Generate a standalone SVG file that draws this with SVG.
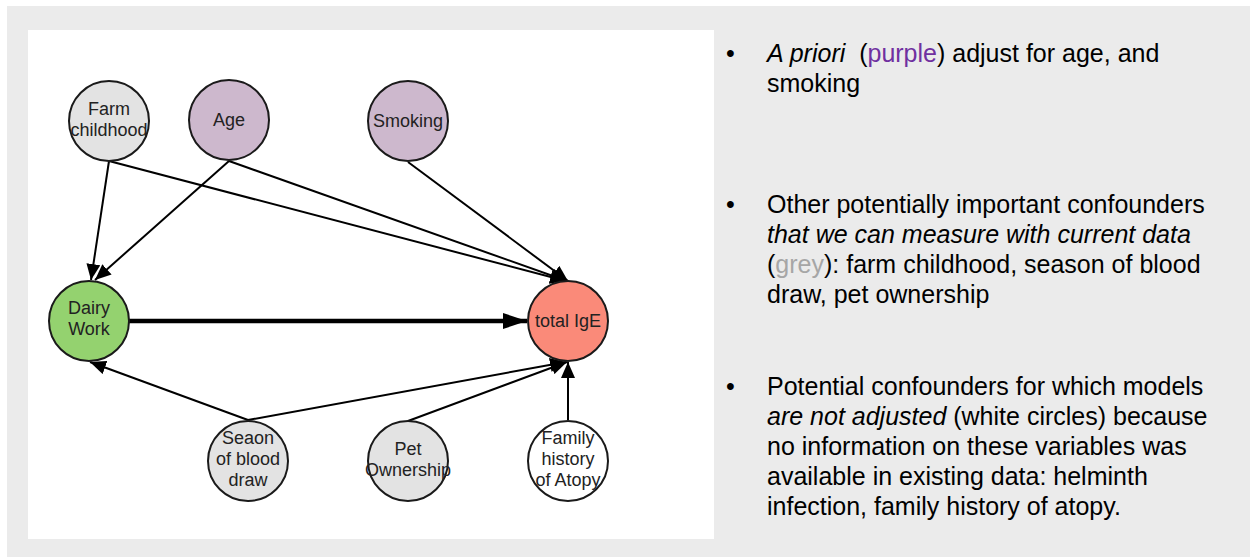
<svg xmlns="http://www.w3.org/2000/svg" width="1250" height="557" viewBox="0 0 1250 557">
<style>
.node circle{stroke:#1a1a1a;stroke-width:2}
.nl{font-family:"Liberation Sans",Arial,sans-serif;font-size:18px;fill:#222;text-anchor:middle}
.edge{stroke:#000;stroke-width:2;fill:none;marker-end:url(#ah)}
.thick{stroke:#000;stroke-width:4.5;fill:none;marker-end:url(#ahb)}
.bt{font-family:"Liberation Sans",Arial,sans-serif;font-size:25px;fill:#000}
</style>
<defs>
<marker id="ah" markerUnits="userSpaceOnUse" markerWidth="16" markerHeight="14" viewBox="0 0 16 14" refX="16" refY="7" orient="auto"><path d="M0,0 L16,7 L0,14 z" fill="#000"/></marker>
<marker id="ahb" markerUnits="userSpaceOnUse" markerWidth="24" markerHeight="16" viewBox="0 0 24 16" refX="24" refY="8" orient="auto"><path d="M0,0 L24,8 L0,16 z" fill="#000"/></marker>
</defs>
<rect x="7" y="6" width="1243" height="551" fill="#ebebeb"/>
<rect x="28" y="30" width="686" height="509" fill="#fff"/>
<g id="connectors">
<line class="edge" x1="109" y1="161" x2="91" y2="280"/>
<line class="edge" x1="109" y1="161" x2="566" y2="281"/>
<line class="edge" x1="229" y1="161" x2="95" y2="280"/>
<line class="edge" x1="229" y1="161" x2="567" y2="281"/>
<line class="edge" x1="408" y1="162" x2="568" y2="281"/>
<line class="thick" x1="129" y1="321" x2="527" y2="321"/>
<line class="edge" x1="248" y1="420" x2="90" y2="362"/>
<line class="edge" x1="248" y1="420" x2="566" y2="362"/>
<line class="edge" x1="408" y1="421" x2="567" y2="362"/>
<line class="edge" x1="568" y1="420" x2="568" y2="362"/>
</g>
<g id="farm" class="node"><circle cx="109" cy="121" r="40" fill="#e3e3e3"/><text class="nl" x="109" y="115">Farm</text><text class="nl" x="109" y="136">childhood</text></g>
<g id="age" class="node"><circle cx="229" cy="120" r="40" fill="#cdb8cd"/><text class="nl" x="229" y="126">Age</text></g>
<g id="smoking" class="node"><circle cx="408" cy="121" r="40" fill="#cdb8cd"/><text class="nl" x="408" y="127">Smoking</text></g>
<g id="dairy" class="node"><circle cx="89" cy="321" r="40" fill="#94d26f"/><text class="nl" x="89" y="314">Dairy</text><text class="nl" x="89" y="335">Work</text></g>
<g id="ige" class="node"><circle cx="568" cy="321" r="40" fill="#fa8a79"/><text class="nl" x="568" y="327">total IgE</text></g>
<g id="season" class="node"><circle cx="248" cy="461" r="40" fill="#e3e3e3"/><text class="nl" x="248" y="444">Seaon</text><text class="nl" x="248" y="465">of blood</text><text class="nl" x="248" y="486">draw</text></g>
<g id="pet" class="node"><circle cx="408" cy="461" r="40" fill="#e3e3e3"/><text class="nl" x="408" y="455">Pet</text><text class="nl" x="408" y="476">Ownership</text></g>
<g id="family" class="node"><circle cx="568" cy="461" r="40" fill="#fff"/><text class="nl" x="568" y="444">Family</text><text class="nl" x="568" y="465">history</text><text class="nl" x="568" y="486">of Atopy</text></g>
<g id="text">
<text class="bt" x="726" y="62">•</text>
<text class="bt" x="767" y="62" xml:space="preserve"><tspan font-style="italic">A priori</tspan>  (<tspan fill="#7030a0">purple</tspan>) adjust for age, and</text>
<text class="bt" x="767" y="92">smoking</text>
<text class="bt" x="726" y="213">•</text>
<text class="bt" x="767" y="213">Other potentially important confounders</text>
<text class="bt" x="767" y="243" font-style="italic">that we can measure with current data</text>
<text class="bt" x="767" y="273">(<tspan fill="#a6a6a6">grey</tspan>): farm childhood, season of blood</text>
<text class="bt" x="767" y="303">draw, pet ownership</text>
<text class="bt" x="726" y="395">•</text>
<text class="bt" x="767" y="395">Potential confounders for which models</text>
<text class="bt" x="767" y="425"><tspan font-style="italic">are not adjusted</tspan> (white circles) because</text>
<text class="bt" x="767" y="455">no information on these variables was</text>
<text class="bt" x="767" y="485">available in existing data: helminth</text>
<text class="bt" x="767" y="515">infection, family history of atopy.</text>
</g>
</svg>
